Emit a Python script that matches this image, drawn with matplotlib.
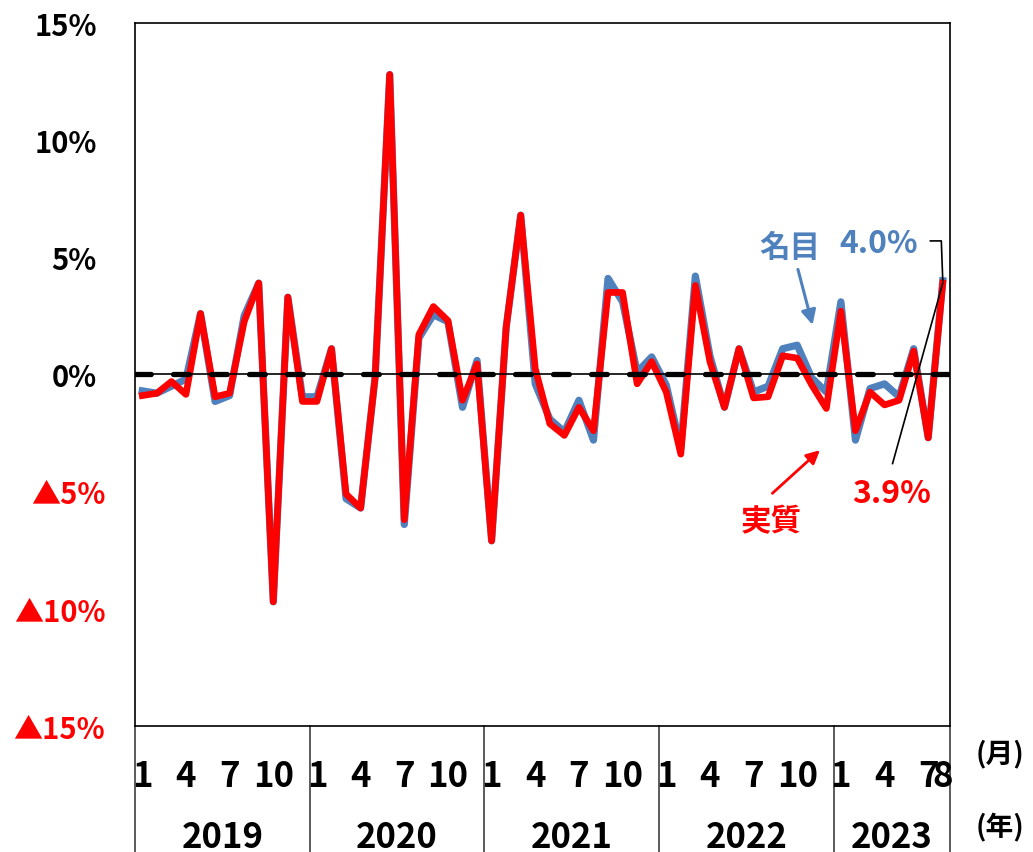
import matplotlib.pyplot as plt
import numpy as np

# 前月比（季節調整値）, 2019年1月～2023年8月
years = ['2019', '2020', '2021', '2022', '2023']
months_per_year = [12, 12, 12, 12, 8]
nominal = [-0.7, -0.8, -0.5, -0.2, 2.6, -1.15, -0.9, 2.5, 3.9, -9.7, 3.3, -0.95,
           -0.95, 1.1, -5.3, -5.7, -0.1, 12.8, -6.4, 1.55, 2.55, 2.25, -1.4, 0.6,
           -7.1, 2.0, 6.8, -0.4, -1.9, -2.45, -1.1, -2.8, 4.1, 3.1, 0.1, 0.75,
           -0.45, -3.15, 4.2, 0.8, -1.4, 1.1, -0.75, -0.5, 1.1, 1.25, -0.15, -0.75,
           3.1, -2.8, -0.6, -0.4, -0.95, 1.1, -2.7, 4.0]
real = [-0.9, -0.8, -0.3, -0.85, 2.6, -0.95, -0.8, 2.25, 3.9, -9.7, 3.3, -1.15,
        -1.15, 1.1, -5.1, -5.7, -0.1, 12.8, -6.2, 1.7, 2.9, 2.3, -1.1, 0.45,
        -7.1, 2.0, 6.8, 0.25, -2.1, -2.6, -1.4, -2.4, 3.5, 3.5, -0.4, 0.55,
        -0.75, -3.4, 3.8, 0.55, -1.4, 1.1, -1.0, -0.95, 0.8, 0.7, -0.45, -1.45,
        2.7, -2.4, -0.75, -1.3, -1.1, 1.0, -2.7, 3.9]
yticks = [15, 10, 5, 0, -5, -10, -15]
ytick_labels = ['15%', '10%', '5%', '0%', '▲5%', '▲10%', '▲15%']
month_marks = [1, 4, 7, 10]

BLUE = '#4F81BD'
RED = '#FF0000'

plt.rcParams['font.family'] = ['Noto Sans CJK JP', 'DejaVu Sans']
plt.rcParams['font.weight'] = 'bold'

fig = plt.figure(figsize=(10.33, 8.53), dpi=100)
ax = fig.add_axes([0.1307, 0.1477, 0.7890, 0.8242])

x = np.arange(len(nominal))
ax.plot(x, nominal, color=BLUE, lw=5.2, zorder=2)
ax.plot(x, real, color=RED, lw=4.8, zorder=3)
ax.axhline(0, color='black', lw=1.2, zorder=4)
ax.axhline(0, color='black', lw=3.8, ls=(0, (3.0, 4.2)), dash_capstyle='round', zorder=5)

ax.set_xlim(-0.5, len(nominal) - 0.5)
ax.set_ylim(-15, 15)
ax.set_yticks(yticks)
ax.set_yticklabels([])
ax.tick_params(axis='y', length=0)
ax.set_xticks([])
for s in ax.spines.values():
    s.set_color('black')
    s.set_linewidth(1.2)

# 目盛ラベル（マイナスは▲表記で赤）
for v, lab in zip(yticks, ytick_labels):
    neg = v < 0
    ax.annotate(lab, xy=(0, v), xycoords=('axes fraction', 'data'),
                xytext=(-21.5 if neg else -27.5, -2), textcoords='offset points',
                ha='right', va='center', fontsize=21, color=RED if neg else 'black')

# 月・年のラベルと年の区切り線
xt = ax.get_xaxis_transform()
label_font = dict(fontsize=25, weight='bold')
start = 0
bounds = [-0.5]
for yr, n in zip(years, months_per_year):
    for m in month_marks:
        if m <= n:
            ax.text(start + m - 1, -0.07, str(m), transform=xt, ha='center', va='center', **label_font)
    if n < 12:
        ax.text(start + n - 1, -0.07, str(n), transform=xt, ha='center', va='center', **label_font)
    ax.text(start + (n - 1) / 2, -0.157, yr, transform=xt, ha='center', va='center', **label_font)
    start += n
    bounds.append(start - 0.5)
for b in bounds:
    ax.plot([b, b], [0, -0.2], transform=xt, color='#404040', lw=1.2, clip_on=False)

fig.text(0.968, 0.116, '(月)', ha='center', va='center', fontsize=20)
fig.text(0.968, 0.030, '(年)', ha='center', va='center', fontsize=20)

# 系列名と最新値の注記
last = len(nominal) - 1
ax.text(44.5, 5.45, '名目', color=BLUE, fontsize=22, ha='center', va='center')
ax.annotate('', xy=(46.1, 2.0), xytext=(45.0, 4.6),
            arrowprops=dict(arrowstyle='-|>', color=BLUE, lw=2.2, mutation_scale=22))
ax.text(50.6, 5.6, f'{nominal[-1]:.1f}%', color=BLUE, fontsize=23, ha='center', va='center')
ax.plot([54.15, 54.9, last], [5.7, 5.7, nominal[-1]], color='black', lw=1.2, zorder=6)

ax.text(43.2, -6.27, '実質', color=RED, fontsize=22, ha='center', va='center')
ax.annotate('', xy=(46.7, -3.15), xytext=(43.15, -5.15),
            arrowprops=dict(arrowstyle='-|>', color=RED, lw=2.0, mutation_scale=20))
ax.text(51.5, -5.05, f'{real[-1]:.1f}%', color=RED, fontsize=23, ha='center', va='center')
ax.plot([last, 51.55], [real[-1], -3.8], color='black', lw=1.2, zorder=6)

fig.savefig('out.png', dpi=100)
